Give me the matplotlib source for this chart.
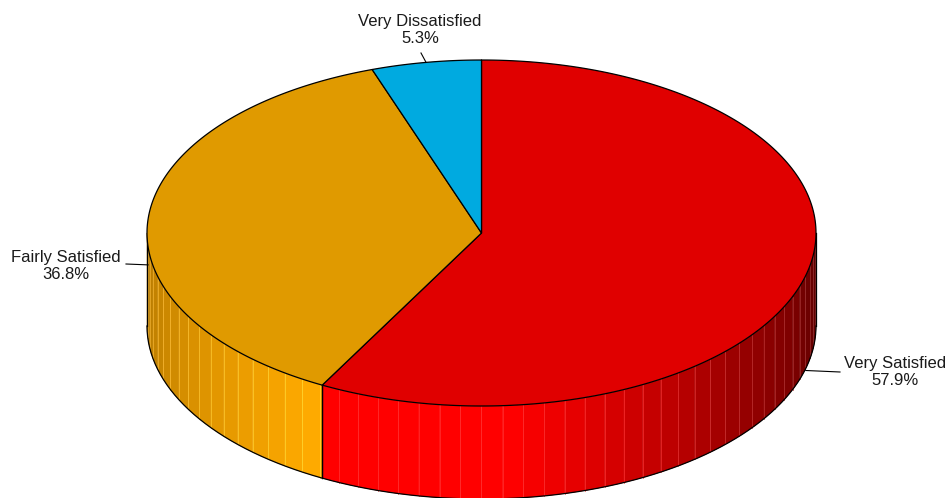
import matplotlib
matplotlib.use("Agg")
import matplotlib.pyplot as plt
from matplotlib.patches import Polygon
import numpy as np

# data
labels = ["Very Satisfied", "Fairly Satisfied", "Very Dissatisfied"]
values = [57.9, 36.8, 5.3]
top_colors = ["#e00000", "#e09a00", "#00aae0"]
side_colors = [(1.0, 0.0, 0.0), (1.0, 0.667, 0.0), (0.0, 0.8, 1.0)]

# geometry of the 3d pie (pixels)
cx, cy = 481.5, 233.0
a, b = 334.5, 173.0
depth = 93.0

# label layout: text centre and leader start (pixels), leader end offset below top
label_pos = [(895, 372), (66, 266), (420, 30)]
leader_start = [(840, 372), (126, 264), (421, 53)]
leader_drop = [95, 46, 0]

plt.rcParams['font.family'] = ['Liberation Sans', 'DejaVu Sans']

fig = plt.figure(figsize=(9.52, 4.98), dpi=100)
ax = fig.add_axes([0, 0, 1, 1])
ax.set_xlim(0, 952)
ax.set_ylim(498, 0)
ax.axis('off')


def pt(theta, dy=0.0):
    t = np.radians(theta)
    return cx + a * np.cos(t), cy - b * np.sin(t) + dy


def shade(theta):
    th = theta % 360
    return np.interp(th, [180, 240, 275, 320, 360], [0.70, 1.0, 1.0, 0.6, 0.35])


# slice angle ranges, clockwise from 12 o'clock
fr = np.array(values) / sum(values)
starts = 90 - np.concatenate([[0], np.cumsum(fr)[:-1]]) * 360
ends = starts - fr * 360

# side walls (front half: theta in [-180, 0])
for s, e, col in zip(starts, ends, side_colors):
    lo, hi = max(e, -180), min(s, 0)
    if lo >= hi:
        continue
    edges = np.arange(np.ceil(lo / 3.6) * 3.6, hi, 3.6)
    edges = np.unique(np.concatenate([[lo], edges, [hi]]))
    for t0, t1 in zip(edges[:-1], edges[1:]):
        ts = np.linspace(t0, t1, 6)
        top = [pt(t) for t in ts]
        bot = [pt(t, depth) for t in ts[::-1]]
        f = shade((t0 + t1) / 2)
        c = tuple(min(1, ch * f) for ch in col)
        ax.add_patch(Polygon(top + bot, closed=True, facecolor=c, edgecolor=c,
                             lw=0.3, zorder=1))
        light = tuple(min(1, ch * f + 0.2) for ch in col)
        x0, y0 = pt(t0)
        ax.plot([x0, x0], [y0, y0 + depth], color=light, lw=0.6, alpha=0.8, zorder=1.5)
    # boundary line of slice on the side
    for t in (s, e):
        if -180 < t < 0:
            x0, y0 = pt(t)
            ax.plot([x0, x0], [y0, y0 + depth], color='black', lw=0.9, zorder=2)

# outline of side
ts = np.linspace(-180, 0, 200)
xb, yb = zip(*[pt(t, depth) for t in ts])
ax.plot(xb, yb, color='black', lw=0.9, zorder=2)
for t in (-180, 0):
    x0, y0 = pt(t)
    ax.plot([x0, x0], [y0, y0 + depth], color='black', lw=0.9, zorder=2)

# top face
for s, e, col in zip(starts, ends, top_colors):
    ts = np.linspace(s, e, 200)
    poly = [(cx, cy)] + [pt(t) for t in ts]
    ax.add_patch(Polygon(poly, closed=True, facecolor=col, edgecolor='black',
                         lw=0.9, joinstyle='round', zorder=3))

# labels with leaders
for i, (lab, v) in enumerate(zip(labels, values)):
    mid = (starts[i] + ends[i]) / 2
    ex, ey = pt(mid, leader_drop[i])
    sx, sy = leader_start[i]
    ax.plot([sx, ex], [sy, ey], color='black', lw=0.8, zorder=4)
    tx, ty = label_pos[i]
    ax.text(tx, ty, f"{lab}\n{v:.1f}%", ha='center', va='center',
            fontsize=12, color='#1a1a1a', linespacing=1.2, zorder=5)

fig.savefig("out.png", dpi=100)
